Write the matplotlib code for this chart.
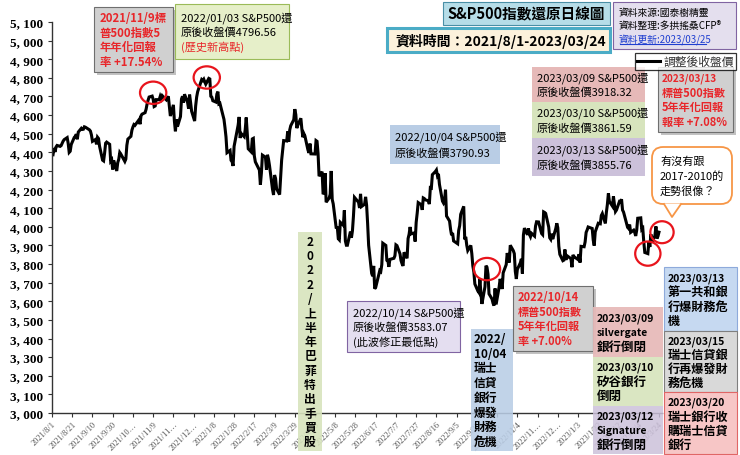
import matplotlib
matplotlib.use("Agg")
import matplotlib.pyplot as plt
import matplotlib.dates as mdates
from matplotlib.patches import Rectangle, Ellipse, FancyBboxPatch, Polygon
from matplotlib.lines import Line2D
import pandas as pd
import numpy as np

# ---------------- data: S&P500 adjusted close ----------------
m2021_08 = [4387, 4423, 4402, 4429, 4437, 4432, 4436, 4448, 4460, 4468, 4479, 4448, 4400, 4406, 4442,
            4480, 4486, 4497, 4470, 4509, 4529, 4523]
m2021_09 = [4524, 4537, 4535, 4521, 4514, 4493, 4459, 4469, 4443, 4481, 4474, 4433, 4358, 4354, 4396,
            4449, 4455, 4443, 4353, 4360, 4308]
m2021_10 = [4357, 4300, 4345, 4363, 4399, 4391, 4361, 4351, 4364, 4438, 4471, 4486, 4519, 4536, 4549,
            4545, 4567, 4575, 4551, 4596, 4605]
m2021_11 = [4613, 4631, 4660, 4680, 4697, 4702, 4685, 4646, 4649, 4683, 4683, 4701, 4688, 4704, 4698,
            4682, 4691, 4701, 4595, 4655, 4567]
m2021_12 = [4513, 4577, 4538, 4592, 4686, 4701, 4667, 4712, 4669, 4635, 4710, 4668, 4621, 4568, 4649,
            4697, 4726, 4791, 4786, 4793, 4778, 4766]
m2022_01 = [4797, 4794, 4701, 4696, 4677, 4670, 4713, 4726, 4660, 4663, 4577, 4533, 4483, 4398, 4410,
            4357, 4350, 4327, 4432, 4516]
m2022_02 = [4546, 4590, 4477, 4501, 4484, 4522, 4587, 4504, 4419, 4402, 4472, 4475, 4381, 4349, 4305,
            4226, 4289, 4385, 4374]
m2022_03 = [4306, 4387, 4364, 4329, 4201, 4171, 4278, 4260, 4204, 4173, 4262, 4358, 4412, 4463, 4461,
            4512, 4457, 4520, 4543, 4575, 4632, 4603, 4530]
m2022_04 = [4546, 4583, 4525, 4481, 4500, 4488, 4413, 4397, 4447, 4392, 4391, 4463, 4459, 4394, 4272,
            4296, 4175, 4183, 4288, 4132]
m2022_05 = [4155, 4175, 4300, 4147, 4123, 3991, 4001, 3936, 3930, 4024, 4008, 4088, 3924, 3901, 3901,
            3974, 3941, 3979, 4058, 4158, 4132]
m2022_06 = [4101, 4177, 4109, 4121, 4161, 4116, 4018, 3901, 3750, 3735, 3790, 3667, 3675, 3765, 3760,
            3796, 3912, 3900, 3821, 3819, 3785]
m2022_07 = [3825, 3831, 3845, 3903, 3899, 3855, 3819, 3802, 3790, 3863, 3831, 3937, 3960, 3999, 3962,
            3967, 3921, 4024, 4073, 4130]
m2022_08 = [4119, 4091, 4155, 4152, 4145, 4140, 4122, 4210, 4208, 4280, 4297, 4305, 4275, 4284, 4228,
            4138, 4128, 4141, 4199, 4058, 4031, 3986, 3955]
m2022_09 = [3967, 3924, 3909, 3980, 4006, 4067, 4110, 3932, 3946, 3901, 3873, 3900, 3856, 3790, 3758,
            3693, 3655, 3647, 3720, 3640, 3586]
m2022_10 = [3678, 3791, 3783, 3745, 3640, 3612, 3589, 3577, 3669, 3583, 3677, 3720, 3695, 3666, 3753,
            3797, 3859, 3831, 3808, 3901, 3872]
m2022_11 = [3856, 3760, 3720, 3771, 3807, 3828, 3749, 3956, 3993, 3957, 3992, 3959, 3947, 3965, 3950,
            4004, 4027, 4026, 3964, 3958, 4080]
m2022_12 = [4077, 4072, 3999, 3941, 3933, 3963, 3934, 3991, 4019, 3995, 3896, 3852, 3818, 3821, 3878,
            3822, 3845, 3829, 3783, 3849, 3840]
m2023_01 = [3824, 3853, 3808, 3895, 3893, 3919, 3970, 3983, 3999, 3991, 3929, 3899, 3973, 4019, 4017,
            4016, 4060, 4071, 4018, 4077]
m2023_02 = [4120, 4179, 4136, 4111, 4164, 4118, 4082, 4090, 4137, 4136, 4148, 4090, 4079, 3997, 3991,
            4012, 3970, 3982, 3970]
m2023_03 = [3951, 3982, 4046, 4048, 3986, 3992, 3918, 3862, 3856, 3920, 3892, 3960, 3917, 3952, 4002,
            3937, 3949, 3971]

holidays = ["2021-09-06", "2021-11-25", "2021-12-24", "2022-01-17", "2022-02-21", "2022-04-15",
            "2022-05-30", "2022-06-20", "2022-07-04", "2022-09-05", "2022-11-24", "2022-12-26",
            "2023-01-02", "2023-01-16", "2023-02-20"]

months = [m2021_08, m2021_09, m2021_10, m2021_11, m2021_12, m2022_01, m2022_02, m2022_03, m2022_04,
          m2022_05, m2022_06, m2022_07, m2022_08, m2022_09, m2022_10, m2022_11, m2022_12, m2023_01,
          m2023_02, m2023_03]
values = np.array([v for m in months for v in m], dtype=float)
dates = pd.bdate_range("2021-08-02", "2023-03-24", freq="C", holidays=holidays)
assert len(dates) == len(values), (len(dates), len(values))

yticks = list(range(3000, 5101, 100))
xtick_dates = pd.date_range("2021-08-01", "2023-03-24", freq="20D")

# highlighted points (date, circle)
circle_dates = ["2021-11-09", "2022-01-03", "2022-10-04", "2023-03-13", "2023-03-24"]

# ---------------- figure ----------------
W, H = 740, 456
CJK = ["Noto Sans CJK TC", "DejaVu Sans"]
plt.rcParams["font.family"] = CJK

fig = plt.figure(figsize=(W / 100, H / 100), dpi=100)
fig.patch.set_facecolor("white")
ax = fig.add_axes([52 / W, 42 / H, (662 - 52) / W, (433 - 42) / H])

line, = ax.plot(dates, values, color="black", lw=2.2, solid_joinstyle="miter")

ax.set_ylim(3000, 5100)
ax.set_xlim(pd.Timestamp("2021-08-01"), pd.Timestamp("2023-03-27"))
ax.set_yticks(yticks)
ax.set_yticklabels([f"{v // 1000}, {v % 1000:03d}" for v in yticks],
                   fontfamily="Liberation Serif", fontweight="bold", fontsize=9.5)


def short(d):
    s = f"{d.year}/{d.month}/{d.day}"
    return s if len(s) <= 9 else s[:7] + "…"


ax.set_xticks(xtick_dates)
ax.set_xticklabels([short(d) for d in xtick_dates], rotation=45, ha="right",
                   rotation_mode="anchor", fontsize=6, color="#555555",
                   fontfamily="Liberation Serif")
ax.tick_params(axis="both", direction="out", length=3, width=0.8, color="#333333")
ax.tick_params(axis="x", pad=2)
for s in ["top", "right"]:
    ax.spines[s].set_visible(False)
for s in ["left", "bottom"]:
    ax.spines[s].set_color("#333333")
    ax.spines[s].set_linewidth(1.0)

# red circles around key points (in data coordinates)
dnum = mdates.date2num(dates)
circle_specs = [(0, 35, 26, 120), (-2, 5, 26, 120), (1, -18, 26, 120), (0, 0, 25, 130), (3, 0, 23, 118)]
for dstr, (ddays, dv, wdays, hval) in zip(circle_dates, circle_specs):
    i = int(np.argmin(np.abs(dates - pd.Timestamp(dstr))))
    e = Ellipse((dnum[i] + ddays, values[i] + dv), wdays, hval, fill=False, ec="#e8141c",
                lw=1.6, clip_on=False, zorder=6)
    ax.add_patch(e)


# ---------------- annotation boxes ----------------
def fx(x):
    return x / W


def fy(y):
    return 1 - y / H


def box(x0, y0, x1, y1, fc, ec, lines, colors=None, sizes=8, weight="normal", ha="left",
        padx=5, vpad=3, lw=0.8, alpha=1.0, shadow=False, family=None):
    if shadow:
        fig.add_artist(Rectangle((fx(x0 + 3), fy(y1 + 3)), (x1 - x0) / W, (y1 - y0) / H,
                                 transform=fig.transFigure, fc="#9a9a9a", ec="none", alpha=0.6,
                                 zorder=4))
    fig.add_artist(Rectangle((fx(x0), fy(y1)), (x1 - x0) / W, (y1 - y0) / H,
                             transform=fig.transFigure, fc=fc, ec=ec, lw=lw, alpha=alpha, zorder=5))
    n = len(lines)
    if colors is None:
        colors = ["black"] * n
    if not isinstance(sizes, (list, tuple)):
        sizes = [sizes] * n
    pitch = (y1 - y0 - 2 * vpad) / n
    for k, (t, c, s) in enumerate(zip(lines, colors, sizes)):
        yc = y0 + vpad + (k + 0.5) * pitch
        xx = x0 + padx if ha == "left" else (x0 + x1) / 2
        fig.text(fx(xx), fy(yc), t, color=c, fontsize=s, fontweight=weight, ha=ha, va="center",
                 zorder=7, family=family or CJK)


RED = "#e8262a"
GREY_FC, GREY_EC = "#d0d0d0", "#6f6f6f"

box(94, 8, 173, 73, GREY_FC, GREY_EC, ["2021/11/9標", "普500指數5", "年年化回報", "率 +17.54%"],
    colors=[RED] * 4, sizes=8.2, weight="bold", shadow=True, padx=6)
box(175, 5, 289, 60, "#e6efc9", "#9bbb59", ["2022/01/03 S&P500還", "原後收盤價4796.56", "(歷史新高點)"],
    colors=["black", "black", RED], sizes=8, padx=6, vpad=6)
box(443, 3, 610, 26, "#b6dde8", "#4a8fa6", ["S&P500指數還原日線圖"], sizes=10.5, weight="bold",
    ha="center", vpad=0)
box(387, 29, 610, 53, "#fcf1dc", "#4bacc6", ["資料時間：2021/8/1-2023/03/24"], sizes=10,
    weight="bold", padx=8, lw=2.2, vpad=0)
box(613, 3, 736, 50, "#e4dfee", "#8064a2", ["資料來源:國泰樹精靈", "資料整理:多拱搖桑CFP®", "資料更新:2023/03/25"],
    colors=["black", "black", "#1f3fd0"], sizes=7, padx=6, vpad=3)
fig.add_artist(Line2D([fx(620), fx(706)], [fy(45), fy(45)], color="#1f3fd0", lw=0.8, zorder=8))

box(532, 68, 645, 103, "#e6b9b8", "none", ["2023/03/09 S&P500還", "原後收盤價3918.32"], sizes=8, padx=5)
box(532, 103, 645, 139, "#d7e4bd", "none", ["2023/03/10 S&P500還", "原後收盤價3861.59"], sizes=8, padx=5)
box(532, 139, 645, 177, "#ccc1da", "none", ["2023/03/13 S&P500還", "原後收盤價3855.76"], sizes=8, padx=5)
box(658, 68, 733, 133, GREY_FC, GREY_EC, ["2023/03/13", "標普500指數", "5年年化回報", "報率 +7.08%"],
    colors=[RED] * 4, sizes=[7.2, 8, 8, 8], weight="bold", shadow=True, padx=4)

box(390, 126, 500, 165, "#b9cde5", "none", ["2022/10/04 S&P500還", "原後收盤價3790.93"], sizes=8, padx=5)
box(347, 302, 460, 353, "#e4def0", "#8064a2", ["2022/10/14 S&P500還", "原後收盤價3583.07", "(此波修正最低點)"],
    sizes=8, padx=6, vpad=4)

box(298, 233, 322, 452, "#d7e4bd", "none", list("2022/上半年巴菲特出手買股"), sizes=8.5,
    weight="bold", ha="center", vpad=2, alpha=0.9)
box(471, 330, 513, 452, "#b9cde5", "none", ["2022/", "10/04", "瑞士", "信貸", "銀行", "爆發", "財務", "危機"],
    sizes=8.5, weight="bold", padx=3, vpad=2, alpha=0.88)
box(513, 287, 593, 352, GREY_FC, GREY_EC, ["2022/10/14", "標普500指數", "5年年化回報", "率 +7.00%"],
    colors=[RED] * 4, sizes=8, weight="bold", shadow=True, padx=5)

box(593, 308, 663, 358, "#e6b9b8", "none", ["2023/03/09", "silvergate", "銀行倒閉"],
    sizes=[7.5, 7.5, 9], weight="bold", padx=4, alpha=0.92)
box(593, 358, 663, 407, "#d7e4bd", "none", ["2023/03/10", "矽谷銀行", "倒閉"],
    sizes=[7.5, 9, 9], weight="bold", padx=4, alpha=0.92)
box(593, 407, 663, 455, "#ccc1da", "none", ["2023/03/12", "Signature", "銀行倒閉"],
    sizes=[7.5, 7.5, 9], weight="bold", padx=4, alpha=0.85)
box(664, 268, 737, 332, "#c6d9f1", "#8eaadb", ["2023/03/13", "第一共和銀", "行爆財務危", "機"],
    sizes=[7.5, 8.7, 8.7, 8.7], weight="bold", padx=4)
box(664, 332, 737, 393, "#d9d9d9", "#7f7f7f", ["2023/03/15", "瑞士信貸銀", "行再爆發財", "務危機"],
    sizes=[7.5, 8.7, 8.7, 8.7], weight="bold", padx=4)
box(664, 393, 737, 455, "#f7c6c6", "#e06666", ["2023/03/20", "瑞士銀行收", "購瑞士信貸", "銀行"],
    sizes=[7.5, 8.7, 8.7, 8.7], weight="bold", padx=4)

# speech bubble
ORANGE = "#f79646"
bx0, by0, bx1, by1 = 652, 148, 732, 205
fig.add_artist(FancyBboxPatch((fx(bx0), fy(by1)), (bx1 - bx0) / W, (by1 - by0) / H,
                              boxstyle="round,pad=0,rounding_size=0.015", transform=fig.transFigure,
                              fc="white", ec=ORANGE, lw=1.3, zorder=5, mutation_aspect=W / H))
fig.add_artist(Polygon([(fx(664), fy(204.5)), (fx(672), fy(218)), (fx(681), fy(204.5))],
                       closed=True, transform=fig.transFigure, fc="white", ec="none", zorder=6))
fig.add_artist(Line2D([fx(664), fx(672), fx(681)], [fy(205), fy(218), fy(205)],
                      color=ORANGE, lw=1.3, zorder=6))
for k, t in enumerate(["有沒有跟", "2017-2010的", "走勢很像？"]):
    fig.text(fx(660), fy(by0 + 14 + k * 15), t, fontsize=8, ha="left", va="center", zorder=7)

# legend
leg = fig.legend([line], ["調整後收盤價"], loc="upper right", bbox_to_anchor=(736 / W, 1 - 54 / H),
                 frameon=True, fancybox=False, edgecolor="black", fontsize=8.5, handlelength=2.0,
                 borderpad=0.15, handletextpad=0.3, borderaxespad=0)
leg.get_frame().set_linewidth(0.9)
for t in leg.get_texts():
    t.set_color("#333333")

fig.savefig("out.png", dpi=100, facecolor="white")
